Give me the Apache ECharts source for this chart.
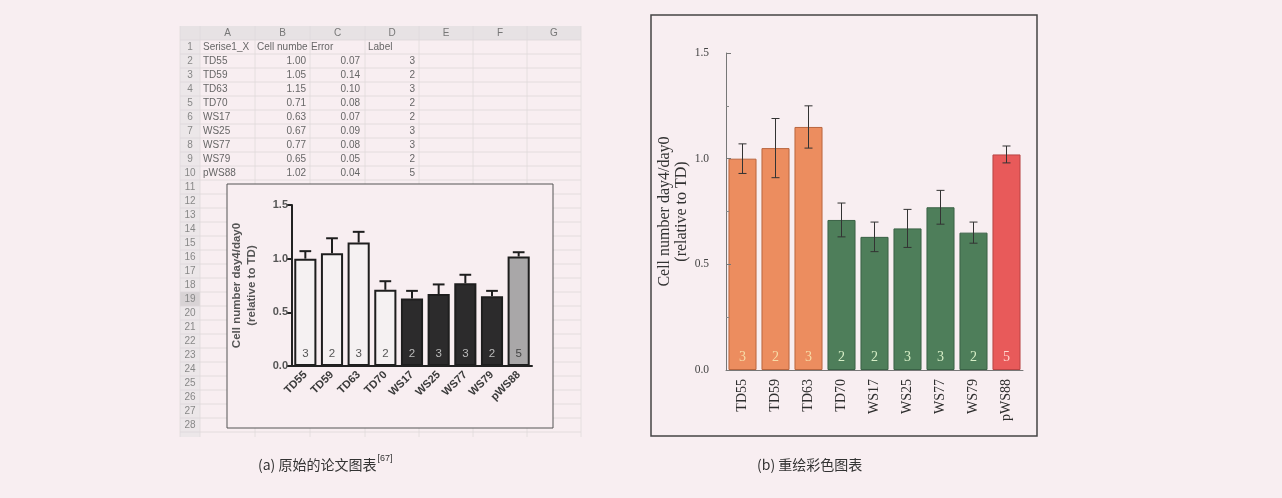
<!DOCTYPE html>
<html><head><meta charset="utf-8">
<script src="https://cdn.jsdelivr.net/npm/echarts@6/dist/echarts.min.js"></script>
<style>html,body{margin:0;padding:0;background:#F8EEF1}#c{width:1282px;height:498px}</style>
</head><body><div id="c"></div>
<script>
// ---- data ----
const categories = ['TD55','TD59','TD63','TD70','WS17','WS25','WS77','WS79','pWS88'];
const cellNumber = [1.00,1.05,1.15,0.71,0.63,0.67,0.77,0.65,1.02];
const errorValues = [0.07,0.14,0.10,0.08,0.07,0.09,0.08,0.05,0.04];
const nLabels = [3,2,3,2,2,3,3,2,5];
const sheetHeader = ['Serise1_X','Cell number','Error','Label'];
const columnLetters = ['A','B','C','D','E','F','G'];
const captionA = '(a) 原始的论文图表';
const captionARef = '[67]';
const captionB = '(b) 重绘彩色图表';
const yAxisTitle = 'Cell number day4/day0\n(relative to TD)';

// ---- styles ----
const BG = '#F8EEF1';
const leftColors = ['#F5F1F2','#F5F1F2','#F5F1F2','#F5F1F2','#2C2B2C','#2C2B2C','#2C2B2C','#2C2B2C','#A9A7A8'];
const leftLabelColors = ['#555','#555','#555','#555','#BBB','#BBB','#BBB','#BBB','#444'];
const rightColors = ['#EC8D5F','#EC8D5F','#EC8D5F','#4E7E5A','#4E7E5A','#4E7E5A','#4E7E5A','#4E7E5A','#E85A5A'];
const rightBorders = ['#B9663F','#B9663F','#B9663F','#3A6246','#3A6246','#3A6246','#3A6246','#3A6246','#B84444'];
const rightLabelColors = ['#F7DCA8','#F7DCA8','#F7DCA8','#D6EEC6','#D6EEC6','#D6EEC6','#D6EEC6','#D6EEC6','#FFD6CE'];

// ---- spreadsheet graphics ----
const colX = [200,255,310,365,419,473,527,581];
const rowTop = 40, rowH = 14, sheetBottom = 437;
const g = [];
g.push({type:'rect', z:0, shape:{x:180,y:26,width:401,height:14}, style:{fill:'#E7E2E4'}});
g.push({type:'rect', z:0, shape:{x:180,y:40,width:20,height:sheetBottom-40}, style:{fill:'#ECE7E9'}});
g.push({type:'rect', z:0, shape:{x:180,y:rowTop+18*rowH,width:20,height:rowH}, style:{fill:'#D8D3D5'}});
for (let r = 0; r <= 28; r++) {
  const y = rowTop + r*rowH;
  g.push({type:'line', z:0, shape:{x1:180,y1:y,x2:581,y2:y}, style:{stroke:'#DDD7D9',lineWidth:0.8}});
}
[180].concat(colX).forEach(x => {
  g.push({type:'line', z:0, shape:{x1:x,y1:26,x2:x,y2:sheetBottom}, style:{stroke:'#E0DADC',lineWidth:0.8}});
});
const sFont = '10px "Liberation Sans", Arial, sans-serif';
columnLetters.forEach((L,i) => {
  g.push({type:'text', z:1, x:(colX[i]+colX[i+1])/2, y:33, style:{text:L, font:sFont, fill:'#777', align:'center', verticalAlign:'middle'}});
});
for (let r = 1; r <= 29; r++) {
  const cy = rowTop + (r-1)*rowH + rowH/2;
  if (cy > sheetBottom) break;
  g.push({type:'text', z:1, x:190, y:cy, style:{text:String(r), font:sFont, fill:'#888', align:'center', verticalAlign:'middle'}});
}
// header row
g.push({type:'text', z:1, x:203, y:47, style:{text:sheetHeader[0], font:sFont, fill:'#666', align:'left', verticalAlign:'middle'}});
g.push({type:'text', z:1, x:257, y:47, style:{text:sheetHeader[1], font:sFont, fill:'#666', align:'left', verticalAlign:'middle', width:52, overflow:'truncate', ellipsis:''}});
g.push({type:'text', z:1, x:311, y:47, style:{text:sheetHeader[2], font:sFont, fill:'#666', align:'left', verticalAlign:'middle'}});
g.push({type:'text', z:1, x:368, y:47, style:{text:sheetHeader[3], font:sFont, fill:'#666', align:'left', verticalAlign:'middle'}});
categories.forEach((c,i) => {
  const cy = rowTop + (i+1)*rowH + rowH/2;
  g.push({type:'text', z:1, x:203, y:cy, style:{text:c, font:sFont, fill:'#666', align:'left', verticalAlign:'middle'}});
  g.push({type:'text', z:1, x:306, y:cy, style:{text:cellNumber[i].toFixed(2), font:sFont, fill:'#666', align:'right', verticalAlign:'middle'}});
  g.push({type:'text', z:1, x:360, y:cy, style:{text:errorValues[i].toFixed(2), font:sFont, fill:'#666', align:'right', verticalAlign:'middle'}});
  g.push({type:'text', z:1, x:415, y:cy, style:{text:String(nLabels[i]), font:sFont, fill:'#666', align:'right', verticalAlign:'middle'}});
});
// embedded chart box
g.push({type:'rect', z:1, shape:{x:227,y:184,width:326,height:244}, style:{fill:BG, stroke:'#555', lineWidth:1}});
// right chart frame
g.push({type:'rect', z:1, shape:{x:651,y:15,width:386,height:421}, style:{fill:'none', stroke:'#444', lineWidth:1.5}});
// captions
const cFont = '14px "Noto Sans CJK SC", "Liberation Sans", sans-serif';
const mctx = document.createElement('canvas').getContext('2d');
mctx.font = cFont;
const capAW = mctx.measureText(captionA).width;
g.push({type:'text', z:1, x:258, y:465, style:{text:captionA, font:cFont, fill:'#333', align:'left', verticalAlign:'middle'}});
g.push({type:'text', z:1, x:258 + capAW + 1, y:459, style:{text:captionARef, font:'9px "Liberation Sans", sans-serif', fill:'#333', align:'left', verticalAlign:'middle'}});
g.push({type:'text', z:1, x:757, y:465, style:{text:captionB, font:cFont, fill:'#333', align:'left', verticalAlign:'middle'}});

// ---- error bar renderers ----
function errUp(params, api) {
  const x = api.value(0), v = api.value(1), e = api.value(2);
  const b = api.coord([x, v]), t = api.coord([x, v + e]);
  const hw = api.size([1, 0])[0] * 0.22;
  const s = {stroke:'#1E1E1E', lineWidth:2};
  return {type:'group', children:[
    {type:'line', shape:{x1:b[0],y1:b[1],x2:t[0],y2:t[1]}, style:s},
    {type:'line', shape:{x1:t[0]-hw,y1:t[1],x2:t[0]+hw,y2:t[1]}, style:s}
  ]};
}
function errBoth(params, api) {
  const x = api.value(0), v = api.value(1), e = api.value(2);
  const lo = api.coord([x, v - e]), hi = api.coord([x, v + e]);
  const hw = 4;
  const s = {stroke:'#333', lineWidth:1};
  return {type:'group', children:[
    {type:'line', shape:{x1:lo[0],y1:lo[1],x2:hi[0],y2:hi[1]}, style:s},
    {type:'line', shape:{x1:hi[0]-hw,y1:hi[1],x2:hi[0]+hw,y2:hi[1]}, style:s},
    {type:'line', shape:{x1:lo[0]-hw,y1:lo[1],x2:lo[0]+hw,y2:lo[1]}, style:s}
  ]};
}
const errData = cellNumber.map((v,i) => [i, v, errorValues[i]]);

const sansB = '"Liberation Sans", Arial, sans-serif';
const serif = '"Liberation Serif", "Times New Roman", serif';

const option = {
  backgroundColor: BG,
  animation: false,
  graphic: {elements: g},
  grid: [
    {left:292, top:205, width:240, height:161},
    {left:726, top:53, width:297, height:317}
  ],
  xAxis: [
    {type:'category', gridIndex:0, data:categories, z:8,
     axisLine:{lineStyle:{color:'#222', width:2}},
     axisTick:{alignWithLabel:true, length:5, lineStyle:{color:'#222', width:2}},
     axisLabel:{rotate:45, margin:7, color:'#3A3A3A', fontWeight:'bold', fontSize:11, fontFamily:sansB}},
    {type:'category', gridIndex:1, data:categories, z:8,
     axisLine:{lineStyle:{color:'#777', width:1}},
     axisTick:{alignWithLabel:true, length:3, lineStyle:{color:'#777'}},
     axisLabel:{rotate:90, margin:9, color:'#2E2E2E', fontSize:14, fontFamily:serif}}
  ],
  yAxis: [
    {type:'value', gridIndex:0, min:0, max:1.5, interval:0.5, z:8,
     axisLine:{show:true, lineStyle:{color:'#222', width:2}},
     axisTick:{show:true, length:5, lineStyle:{color:'#222', width:2}},
     splitLine:{show:false},
     axisLabel:{formatter:v => v.toFixed(1), margin:4, color:'#555', fontWeight:'bold', fontSize:11, fontFamily:sansB},
     name:yAxisTitle, nameLocation:'middle', nameRotate:90, nameGap:33,
     nameTextStyle:{color:'#555', fontWeight:'bold', fontSize:11.5, lineHeight:15, fontFamily:sansB}},
    {type:'value', gridIndex:1, min:0, max:1.5, interval:0.5, z:8,
     axisLine:{show:true, lineStyle:{color:'#777', width:1}},
     axisTick:{show:true, inside:true, length:5, lineStyle:{color:'#777'}},
     minorTick:{show:true, splitNumber:2, length:3, lineStyle:{color:'#888'}},
     splitLine:{show:false},
     axisLabel:{formatter:v => v.toFixed(1), margin:17, color:'#444', fontSize:11.5, fontFamily:serif},
     name:yAxisTitle, nameLocation:'middle', nameRotate:90, nameGap:35,
     nameTextStyle:{color:'#333', fontSize:16, lineHeight:17, fontFamily:serif}}
  ],
  series: [
    {type:'bar', xAxisIndex:0, yAxisIndex:0, z:6, barCategoryGap:'17%',
     data: cellNumber.map((v,i) => ({value:v, itemStyle:{color:leftColors[i]}, label:{color:leftLabelColors[i]}})),
     itemStyle:{borderColor:'#1E1E1E', borderWidth:2},
     label:{show:true, position:'insideBottom', distance:6, fontSize:11.5, fontFamily:sansB,
            formatter:p => String(nLabels[p.dataIndex])}},
    {type:'custom', xAxisIndex:0, yAxisIndex:0, z:7, renderItem:errUp, data:errData},
    {type:'bar', xAxisIndex:1, yAxisIndex:1, z:6, barCategoryGap:'15%',
     data: cellNumber.map((v,i) => ({value:v, itemStyle:{color:rightColors[i], borderColor:rightBorders[i]}, label:{color:rightLabelColors[i]}})),
     itemStyle:{borderWidth:1},
     label:{show:true, position:'insideBottom', distance:6, fontSize:14, fontFamily:serif,
            formatter:p => String(nLabels[p.dataIndex])}},
    {type:'custom', xAxisIndex:1, yAxisIndex:1, z:7, renderItem:errBoth, data:errData}
  ]
};
const chart = echarts.init(document.getElementById('c'));
chart.setOption(option);
</script></body></html>
